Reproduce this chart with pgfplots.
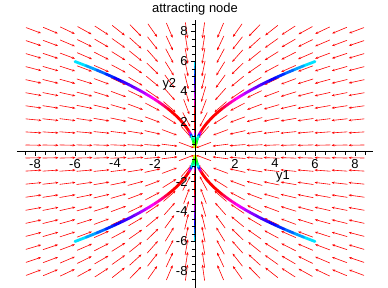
\documentclass[border=0pt]{standalone}
\usepackage{pgfplots}
\pgfplotsset{compat=1.18}
\usepackage{pgfplotstable}
\usepackage{fontspec}
\setmainfont{Liberation Sans}
\usetikzlibrary{arrows.meta}

% trajectory from (6,6): t, x, y
\pgfplotstableread{
t x y
0 6 6
0.05 5.4290 5.7074
0.1 4.9124 5.4290
0.15 4.4449 5.1643
0.2 4.0219 4.9124
0.25 3.6392 4.6728
0.3 3.2929 4.4449
0.35 2.9795 4.2281
0.4 2.6960 4.0219
0.45 2.4394 3.8258
0.5 2.2073 3.6392
0.55 1.9972 3.4617
0.6 1.8071 3.2929
0.65 1.6352 3.1323
0.7 1.4796 2.9795
0.75 1.3388 2.8342
0.8 1.2114 2.6960
0.9 0.9918 2.4394
1.0 0.8120 2.2073
1.1 0.6648 1.9972
1.2 0.5443 1.8071
1.3 0.4456 1.6352
1.4 0.3649 1.4796
1.5 0.2987 1.3388
1.6 0.2446 1.2114
1.7 0.2002 1.0961
1.8 0.1639 0.9918
1.9 0.1342 0.8974
2.0 0.1099 0.8120
2.2 0.0737 0.6648
2.4 0.0494 0.5443
2.6 0.0331 0.4456
2.8 0.0222 0.3649
3.0 0.0149 0.2987
}\traj

% direction field: grid point x y, vector u v
\pgfplotstableread{
x y u v
-8.075 8.075 16.15 -8.075
-7.225 8.075 14.45 -8.075
-6.375 8.075 12.75 -8.075
-5.525 8.075 11.05 -8.075
-4.675 8.075 9.35 -8.075
-3.825 8.075 7.65 -8.075
-2.975 8.075 5.95 -8.075
-2.125 8.075 4.25 -8.075
-1.275 8.075 2.55 -8.075
-0.425 8.075 0.85 -8.075
0.425 8.075 -0.85 -8.075
1.275 8.075 -2.55 -8.075
2.125 8.075 -4.25 -8.075
2.975 8.075 -5.95 -8.075
3.825 8.075 -7.65 -8.075
4.675 8.075 -9.35 -8.075
5.525 8.075 -11.05 -8.075
6.375 8.075 -12.75 -8.075
7.225 8.075 -14.45 -8.075
8.075 8.075 -16.15 -8.075
-8.075 7.225 16.15 -7.225
-7.225 7.225 14.45 -7.225
-6.375 7.225 12.75 -7.225
-5.525 7.225 11.05 -7.225
-4.675 7.225 9.35 -7.225
-3.825 7.225 7.65 -7.225
-2.975 7.225 5.95 -7.225
-2.125 7.225 4.25 -7.225
-1.275 7.225 2.55 -7.225
-0.425 7.225 0.85 -7.225
0.425 7.225 -0.85 -7.225
1.275 7.225 -2.55 -7.225
2.125 7.225 -4.25 -7.225
2.975 7.225 -5.95 -7.225
3.825 7.225 -7.65 -7.225
4.675 7.225 -9.35 -7.225
5.525 7.225 -11.05 -7.225
6.375 7.225 -12.75 -7.225
7.225 7.225 -14.45 -7.225
8.075 7.225 -16.15 -7.225
-8.075 6.375 16.15 -6.375
-7.225 6.375 14.45 -6.375
-6.375 6.375 12.75 -6.375
-5.525 6.375 11.05 -6.375
-4.675 6.375 9.35 -6.375
-3.825 6.375 7.65 -6.375
-2.975 6.375 5.95 -6.375
-2.125 6.375 4.25 -6.375
-1.275 6.375 2.55 -6.375
-0.425 6.375 0.85 -6.375
0.425 6.375 -0.85 -6.375
1.275 6.375 -2.55 -6.375
2.125 6.375 -4.25 -6.375
2.975 6.375 -5.95 -6.375
3.825 6.375 -7.65 -6.375
4.675 6.375 -9.35 -6.375
5.525 6.375 -11.05 -6.375
6.375 6.375 -12.75 -6.375
7.225 6.375 -14.45 -6.375
8.075 6.375 -16.15 -6.375
-8.075 5.525 16.15 -5.525
-7.225 5.525 14.45 -5.525
-6.375 5.525 12.75 -5.525
-5.525 5.525 11.05 -5.525
-4.675 5.525 9.35 -5.525
-3.825 5.525 7.65 -5.525
-2.975 5.525 5.95 -5.525
-2.125 5.525 4.25 -5.525
-1.275 5.525 2.55 -5.525
-0.425 5.525 0.85 -5.525
0.425 5.525 -0.85 -5.525
1.275 5.525 -2.55 -5.525
2.125 5.525 -4.25 -5.525
2.975 5.525 -5.95 -5.525
3.825 5.525 -7.65 -5.525
4.675 5.525 -9.35 -5.525
5.525 5.525 -11.05 -5.525
6.375 5.525 -12.75 -5.525
7.225 5.525 -14.45 -5.525
8.075 5.525 -16.15 -5.525
-8.075 4.675 16.15 -4.675
-7.225 4.675 14.45 -4.675
-6.375 4.675 12.75 -4.675
-5.525 4.675 11.05 -4.675
-4.675 4.675 9.35 -4.675
-3.825 4.675 7.65 -4.675
-2.975 4.675 5.95 -4.675
-2.125 4.675 4.25 -4.675
-1.275 4.675 2.55 -4.675
-0.425 4.675 0.85 -4.675
0.425 4.675 -0.85 -4.675
1.275 4.675 -2.55 -4.675
2.125 4.675 -4.25 -4.675
2.975 4.675 -5.95 -4.675
3.825 4.675 -7.65 -4.675
4.675 4.675 -9.35 -4.675
5.525 4.675 -11.05 -4.675
6.375 4.675 -12.75 -4.675
7.225 4.675 -14.45 -4.675
8.075 4.675 -16.15 -4.675
-8.075 3.825 16.15 -3.825
-7.225 3.825 14.45 -3.825
-6.375 3.825 12.75 -3.825
-5.525 3.825 11.05 -3.825
-4.675 3.825 9.35 -3.825
-3.825 3.825 7.65 -3.825
-2.975 3.825 5.95 -3.825
-2.125 3.825 4.25 -3.825
-1.275 3.825 2.55 -3.825
-0.425 3.825 0.85 -3.825
0.425 3.825 -0.85 -3.825
1.275 3.825 -2.55 -3.825
2.125 3.825 -4.25 -3.825
2.975 3.825 -5.95 -3.825
3.825 3.825 -7.65 -3.825
4.675 3.825 -9.35 -3.825
5.525 3.825 -11.05 -3.825
6.375 3.825 -12.75 -3.825
7.225 3.825 -14.45 -3.825
8.075 3.825 -16.15 -3.825
-8.075 2.975 16.15 -2.975
-7.225 2.975 14.45 -2.975
-6.375 2.975 12.75 -2.975
-5.525 2.975 11.05 -2.975
-4.675 2.975 9.35 -2.975
-3.825 2.975 7.65 -2.975
-2.975 2.975 5.95 -2.975
-2.125 2.975 4.25 -2.975
-1.275 2.975 2.55 -2.975
-0.425 2.975 0.85 -2.975
0.425 2.975 -0.85 -2.975
1.275 2.975 -2.55 -2.975
2.125 2.975 -4.25 -2.975
2.975 2.975 -5.95 -2.975
3.825 2.975 -7.65 -2.975
4.675 2.975 -9.35 -2.975
5.525 2.975 -11.05 -2.975
6.375 2.975 -12.75 -2.975
7.225 2.975 -14.45 -2.975
8.075 2.975 -16.15 -2.975
-8.075 2.125 16.15 -2.125
-7.225 2.125 14.45 -2.125
-6.375 2.125 12.75 -2.125
-5.525 2.125 11.05 -2.125
-4.675 2.125 9.35 -2.125
-3.825 2.125 7.65 -2.125
-2.975 2.125 5.95 -2.125
-2.125 2.125 4.25 -2.125
-1.275 2.125 2.55 -2.125
-0.425 2.125 0.85 -2.125
0.425 2.125 -0.85 -2.125
1.275 2.125 -2.55 -2.125
2.125 2.125 -4.25 -2.125
2.975 2.125 -5.95 -2.125
3.825 2.125 -7.65 -2.125
4.675 2.125 -9.35 -2.125
5.525 2.125 -11.05 -2.125
6.375 2.125 -12.75 -2.125
7.225 2.125 -14.45 -2.125
8.075 2.125 -16.15 -2.125
-8.075 1.275 16.15 -1.275
-7.225 1.275 14.45 -1.275
-6.375 1.275 12.75 -1.275
-5.525 1.275 11.05 -1.275
-4.675 1.275 9.35 -1.275
-3.825 1.275 7.65 -1.275
-2.975 1.275 5.95 -1.275
-2.125 1.275 4.25 -1.275
-1.275 1.275 2.55 -1.275
-0.425 1.275 0.85 -1.275
0.425 1.275 -0.85 -1.275
1.275 1.275 -2.55 -1.275
2.125 1.275 -4.25 -1.275
2.975 1.275 -5.95 -1.275
3.825 1.275 -7.65 -1.275
4.675 1.275 -9.35 -1.275
5.525 1.275 -11.05 -1.275
6.375 1.275 -12.75 -1.275
7.225 1.275 -14.45 -1.275
8.075 1.275 -16.15 -1.275
-8.075 0.425 16.15 -0.425
-7.225 0.425 14.45 -0.425
-6.375 0.425 12.75 -0.425
-5.525 0.425 11.05 -0.425
-4.675 0.425 9.35 -0.425
-3.825 0.425 7.65 -0.425
-2.975 0.425 5.95 -0.425
-2.125 0.425 4.25 -0.425
-1.275 0.425 2.55 -0.425
-0.425 0.425 0.85 -0.425
0.425 0.425 -0.85 -0.425
1.275 0.425 -2.55 -0.425
2.125 0.425 -4.25 -0.425
2.975 0.425 -5.95 -0.425
3.825 0.425 -7.65 -0.425
4.675 0.425 -9.35 -0.425
5.525 0.425 -11.05 -0.425
6.375 0.425 -12.75 -0.425
7.225 0.425 -14.45 -0.425
8.075 0.425 -16.15 -0.425
-8.075 -0.425 16.15 0.425
-7.225 -0.425 14.45 0.425
-6.375 -0.425 12.75 0.425
-5.525 -0.425 11.05 0.425
-4.675 -0.425 9.35 0.425
-3.825 -0.425 7.65 0.425
-2.975 -0.425 5.95 0.425
-2.125 -0.425 4.25 0.425
-1.275 -0.425 2.55 0.425
-0.425 -0.425 0.85 0.425
0.425 -0.425 -0.85 0.425
1.275 -0.425 -2.55 0.425
2.125 -0.425 -4.25 0.425
2.975 -0.425 -5.95 0.425
3.825 -0.425 -7.65 0.425
4.675 -0.425 -9.35 0.425
5.525 -0.425 -11.05 0.425
6.375 -0.425 -12.75 0.425
7.225 -0.425 -14.45 0.425
8.075 -0.425 -16.15 0.425
-8.075 -1.275 16.15 1.275
-7.225 -1.275 14.45 1.275
-6.375 -1.275 12.75 1.275
-5.525 -1.275 11.05 1.275
-4.675 -1.275 9.35 1.275
-3.825 -1.275 7.65 1.275
-2.975 -1.275 5.95 1.275
-2.125 -1.275 4.25 1.275
-1.275 -1.275 2.55 1.275
-0.425 -1.275 0.85 1.275
0.425 -1.275 -0.85 1.275
1.275 -1.275 -2.55 1.275
2.125 -1.275 -4.25 1.275
2.975 -1.275 -5.95 1.275
3.825 -1.275 -7.65 1.275
4.675 -1.275 -9.35 1.275
5.525 -1.275 -11.05 1.275
6.375 -1.275 -12.75 1.275
7.225 -1.275 -14.45 1.275
8.075 -1.275 -16.15 1.275
-8.075 -2.125 16.15 2.125
-7.225 -2.125 14.45 2.125
-6.375 -2.125 12.75 2.125
-5.525 -2.125 11.05 2.125
-4.675 -2.125 9.35 2.125
-3.825 -2.125 7.65 2.125
-2.975 -2.125 5.95 2.125
-2.125 -2.125 4.25 2.125
-1.275 -2.125 2.55 2.125
-0.425 -2.125 0.85 2.125
0.425 -2.125 -0.85 2.125
1.275 -2.125 -2.55 2.125
2.125 -2.125 -4.25 2.125
2.975 -2.125 -5.95 2.125
3.825 -2.125 -7.65 2.125
4.675 -2.125 -9.35 2.125
5.525 -2.125 -11.05 2.125
6.375 -2.125 -12.75 2.125
7.225 -2.125 -14.45 2.125
8.075 -2.125 -16.15 2.125
-8.075 -2.975 16.15 2.975
-7.225 -2.975 14.45 2.975
-6.375 -2.975 12.75 2.975
-5.525 -2.975 11.05 2.975
-4.675 -2.975 9.35 2.975
-3.825 -2.975 7.65 2.975
-2.975 -2.975 5.95 2.975
-2.125 -2.975 4.25 2.975
-1.275 -2.975 2.55 2.975
-0.425 -2.975 0.85 2.975
0.425 -2.975 -0.85 2.975
1.275 -2.975 -2.55 2.975
2.125 -2.975 -4.25 2.975
2.975 -2.975 -5.95 2.975
3.825 -2.975 -7.65 2.975
4.675 -2.975 -9.35 2.975
5.525 -2.975 -11.05 2.975
6.375 -2.975 -12.75 2.975
7.225 -2.975 -14.45 2.975
8.075 -2.975 -16.15 2.975
-8.075 -3.825 16.15 3.825
-7.225 -3.825 14.45 3.825
-6.375 -3.825 12.75 3.825
-5.525 -3.825 11.05 3.825
-4.675 -3.825 9.35 3.825
-3.825 -3.825 7.65 3.825
-2.975 -3.825 5.95 3.825
-2.125 -3.825 4.25 3.825
-1.275 -3.825 2.55 3.825
-0.425 -3.825 0.85 3.825
0.425 -3.825 -0.85 3.825
1.275 -3.825 -2.55 3.825
2.125 -3.825 -4.25 3.825
2.975 -3.825 -5.95 3.825
3.825 -3.825 -7.65 3.825
4.675 -3.825 -9.35 3.825
5.525 -3.825 -11.05 3.825
6.375 -3.825 -12.75 3.825
7.225 -3.825 -14.45 3.825
8.075 -3.825 -16.15 3.825
-8.075 -4.675 16.15 4.675
-7.225 -4.675 14.45 4.675
-6.375 -4.675 12.75 4.675
-5.525 -4.675 11.05 4.675
-4.675 -4.675 9.35 4.675
-3.825 -4.675 7.65 4.675
-2.975 -4.675 5.95 4.675
-2.125 -4.675 4.25 4.675
-1.275 -4.675 2.55 4.675
-0.425 -4.675 0.85 4.675
0.425 -4.675 -0.85 4.675
1.275 -4.675 -2.55 4.675
2.125 -4.675 -4.25 4.675
2.975 -4.675 -5.95 4.675
3.825 -4.675 -7.65 4.675
4.675 -4.675 -9.35 4.675
5.525 -4.675 -11.05 4.675
6.375 -4.675 -12.75 4.675
7.225 -4.675 -14.45 4.675
8.075 -4.675 -16.15 4.675
-8.075 -5.525 16.15 5.525
-7.225 -5.525 14.45 5.525
-6.375 -5.525 12.75 5.525
-5.525 -5.525 11.05 5.525
-4.675 -5.525 9.35 5.525
-3.825 -5.525 7.65 5.525
-2.975 -5.525 5.95 5.525
-2.125 -5.525 4.25 5.525
-1.275 -5.525 2.55 5.525
-0.425 -5.525 0.85 5.525
0.425 -5.525 -0.85 5.525
1.275 -5.525 -2.55 5.525
2.125 -5.525 -4.25 5.525
2.975 -5.525 -5.95 5.525
3.825 -5.525 -7.65 5.525
4.675 -5.525 -9.35 5.525
5.525 -5.525 -11.05 5.525
6.375 -5.525 -12.75 5.525
7.225 -5.525 -14.45 5.525
8.075 -5.525 -16.15 5.525
-8.075 -6.375 16.15 6.375
-7.225 -6.375 14.45 6.375
-6.375 -6.375 12.75 6.375
-5.525 -6.375 11.05 6.375
-4.675 -6.375 9.35 6.375
-3.825 -6.375 7.65 6.375
-2.975 -6.375 5.95 6.375
-2.125 -6.375 4.25 6.375
-1.275 -6.375 2.55 6.375
-0.425 -6.375 0.85 6.375
0.425 -6.375 -0.85 6.375
1.275 -6.375 -2.55 6.375
2.125 -6.375 -4.25 6.375
2.975 -6.375 -5.95 6.375
3.825 -6.375 -7.65 6.375
4.675 -6.375 -9.35 6.375
5.525 -6.375 -11.05 6.375
6.375 -6.375 -12.75 6.375
7.225 -6.375 -14.45 6.375
8.075 -6.375 -16.15 6.375
-8.075 -7.225 16.15 7.225
-7.225 -7.225 14.45 7.225
-6.375 -7.225 12.75 7.225
-5.525 -7.225 11.05 7.225
-4.675 -7.225 9.35 7.225
-3.825 -7.225 7.65 7.225
-2.975 -7.225 5.95 7.225
-2.125 -7.225 4.25 7.225
-1.275 -7.225 2.55 7.225
-0.425 -7.225 0.85 7.225
0.425 -7.225 -0.85 7.225
1.275 -7.225 -2.55 7.225
2.125 -7.225 -4.25 7.225
2.975 -7.225 -5.95 7.225
3.825 -7.225 -7.65 7.225
4.675 -7.225 -9.35 7.225
5.525 -7.225 -11.05 7.225
6.375 -7.225 -12.75 7.225
7.225 -7.225 -14.45 7.225
8.075 -7.225 -16.15 7.225
-8.075 -8.075 16.15 8.075
-7.225 -8.075 14.45 8.075
-6.375 -8.075 12.75 8.075
-5.525 -8.075 11.05 8.075
-4.675 -8.075 9.35 8.075
-3.825 -8.075 7.65 8.075
-2.975 -8.075 5.95 8.075
-2.125 -8.075 4.25 8.075
-1.275 -8.075 2.55 8.075
-0.425 -8.075 0.85 8.075
0.425 -8.075 -0.85 8.075
1.275 -8.075 -2.55 8.075
2.125 -8.075 -4.25 8.075
2.975 -8.075 -5.95 8.075
3.825 -8.075 -7.65 8.075
4.675 -8.075 -9.35 8.075
5.525 -8.075 -11.05 8.075
6.375 -8.075 -12.75 8.075
7.225 -8.075 -14.45 8.075
8.075 -8.075 -16.15 8.075
}\field

\begin{document}
\begin{tikzpicture}
\path[use as bounding box] (-17bp,0) rectangle (371bp,288bp);
\begin{axis}[
  at={(0,0)}, anchor=south west,
  scale only axis, width=356bp, height=268.5bp,
  xmin=-8.9, xmax=8.9, ymin=-9.1, ymax=8.8,
  axis lines=middle,
  axis line style={-, black, line width=0.8bp},
  axis on top,
  clip=false,
  xtick={-8,-6,-4,-2,2,4,6,8},
  xticklabels={-8,-6,-4,-2,2,4,6,8},
  ytick={-8,-6,-4,-2,2,4,6,8},
  yticklabels={-8,-6,-4,-2,2,4,6,8},
  minor xtick={-8.5,-7.5,-7,-6.5,-5.5,-5,-4.5,-3.5,-3,-2.5,-1.5,-1,-0.5,0.5,1,1.5,2.5,3,3.5,4.5,5,5.5,6.5,7,7.5,8.5},
  minor ytick={-8.5,-7.5,-7,-6.5,-5.5,-5,-4.5,-3.5,-3,-2.5,-1.5,-1,-0.5,0.5,1,1.5,2.5,3,3.5,4.5,5,5.5,6.5,7,7.5,8.5},
  tick align=outside,
  major tick length=4bp, minor tick length=3bp,
  every tick/.style={black, line width=0.6bp},
  tick label style={font=\fontsize{13}{13}\selectfont},
  xlabel={y1}, ylabel={y2},
  every axis x label/.style={at={(axis description cs:0.747,0.415)}, anchor=center, font=\fontsize{13}{13}\selectfont},
  every axis y label/.style={at={(axis description cs:0.428,0.758)}, anchor=center, font=\fontsize{13}{13}\selectfont},
  title={attracting node},
  every axis title/.style={at={(axis description cs:0.5,1)}, anchor=center, yshift=10.5bp, font=\fontsize{13}{13}\selectfont},
  colormap={traj}{rgb255(0pt)=(0,255,255); rgb255(21pt)=(0,0,255); rgb255(52pt)=(255,0,255); rgb255(80pt)=(255,0,0); rgb255(150pt)=(255,0,0); rgb255(162pt)=(255,0,255); rgb255(172pt)=(0,0,255); rgb255(185pt)=(0,255,255); rgb255(230pt)=(0,255,0); rgb255(300pt)=(255,255,0)},
  point meta min=0, point meta max=3,
]
\addplot[red, line width=0.6bp,
  quiver={
    u={3.2*\thisrow{u}/sqrt((4*\thisrow{u})^2+(3*\thisrow{v})^2)},
    v={3.2*\thisrow{v}/sqrt((4*\thisrow{u})^2+(3*\thisrow{v})^2)},
    every arrow/.append style={-{Stealth[length=3bp,width=2.4bp]}}
  }]
  table[
    x expr={\thisrow{x}-1.6*\thisrow{u}/sqrt((4*\thisrow{u})^2+(3*\thisrow{v})^2)},
    y expr={\thisrow{y}-1.6*\thisrow{v}/sqrt((4*\thisrow{u})^2+(3*\thisrow{v})^2)}
  ] {\field};

\addplot[mesh, line width=2.8bp, line cap=round, point meta=\thisrow{t}] table[x=x, y=y] {\traj};
\addplot[mesh, line width=2.8bp, line cap=round, point meta=\thisrow{t}] table[x expr=-\thisrow{x}, y=y] {\traj};
\addplot[mesh, line width=2.8bp, line cap=round, point meta=\thisrow{t}] table[x=x, y expr=-\thisrow{y}] {\traj};
\addplot[mesh, line width=2.8bp, line cap=round, point meta=\thisrow{t}] table[x expr=-\thisrow{x}, y expr=-\thisrow{y}] {\traj};
\addplot[mesh, line width=1.8bp, point meta=\thisrow{t}] table[x=x, y expr=0] {\traj};
\addplot[mesh, line width=1.8bp, point meta=\thisrow{t}] table[x expr=-\thisrow{x}, y expr=0] {\traj};
\addplot[mesh, line width=1.8bp, point meta=\thisrow{t}] table[x expr=0, y=y] {\traj};
\addplot[mesh, line width=1.8bp, point meta=\thisrow{t}] table[x expr=0, y expr=-\thisrow{y}] {\traj};
\end{axis}
\end{tikzpicture}
\end{document}
